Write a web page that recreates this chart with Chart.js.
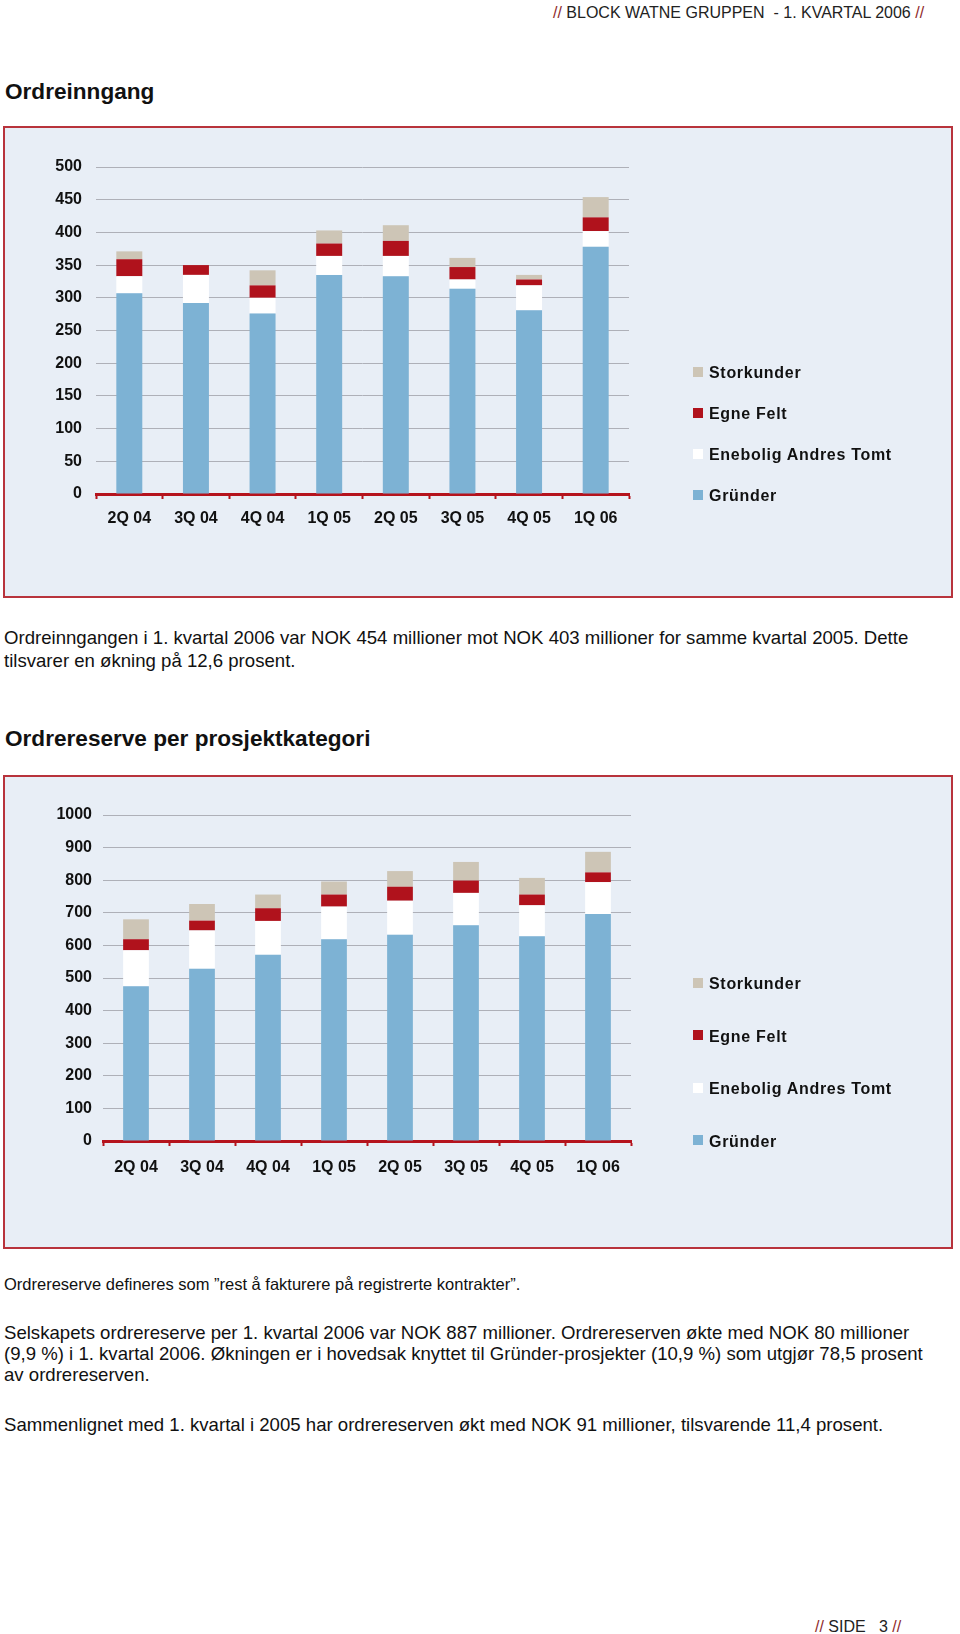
<!DOCTYPE html>
<html>
<head>
<meta charset="utf-8">
<script src="https://cdn.jsdelivr.net/npm/chart.js@4.4.1/dist/chart.umd.min.js"></script>
<style>
  html, body { margin: 0; padding: 0; background: #fff; }
  body { width: 960px; height: 1634px; position: relative; overflow: hidden;
         font-family: "Liberation Sans", Arial, Helvetica, sans-serif; color: #111; }
  .abs { position: absolute; white-space: nowrap; }
  .red { color: #8e2b2b; }
  .head { left: 553px; top: 3px; font-size: 16px; line-height: 20px; color: #222; }
  .foot { left: 815px; top: 1617px; font-size: 16px; line-height: 20px; color: #222; }
  .title { left: 5px; font-size: 22.6px; font-weight: bold; line-height: 26px; }
  .para { left: 4px; font-size: 18.6px; }
  .box { position: absolute; left: 3px; width: 946px; border: 2px solid #b8333c;
         background: #e8eef6; }
  canvas.chart { position: absolute; left: 0; }
  .legend { position: absolute; left: 693px; font-size: 16px; font-weight: bold;
            letter-spacing: 0.7px; color: #111; }
  .legend div { white-space: nowrap; }
  .legend span.sw { display: inline-block; width: 10px; height: 10px; margin-right: 6px;
                    vertical-align: middle; position: relative; top: -2px; }
</style>
</head>
<body>
<div class="abs head"><span class="red">//</span> BLOCK WATNE GRUPPEN&nbsp; - 1. KVARTAL 2006 <span class="red">//</span></div>

<div class="abs title" style="top:79px">Ordreinngang</div>
<div class="box" style="top:126px; height:468px"></div>
<canvas id="inngangChart" class="chart" width="960" height="472" style="top:126px"></canvas>
<div id="inngangLegend" class="legend" style="top:352px"></div>

<div class="abs para" style="top:626px; line-height:23.3px">Ordreinngangen i 1. kvartal 2006 var NOK 454 millioner mot NOK 403 millioner for samme kvartal 2005. Dette<br>tilsvarer en økning på 12,6 prosent.</div>

<div class="abs title" style="top:726px">Ordrereserve per prosjektkategori</div>
<div class="box" style="top:775px; height:470px"></div>
<canvas id="reserveChart" class="chart" width="960" height="474" style="top:775px"></canvas>
<div id="reserveLegend" class="legend" style="top:958px"></div>

<div class="abs" style="left:4px; top:1274px; font-size:16.5px; line-height:20px">Ordrereserve defineres som ”rest å fakturere på registrerte kontrakter”.</div>
<div class="abs para" style="top:1322px; line-height:21.2px">Selskapets ordrereserve per 1. kvartal 2006 var NOK 887 millioner. Ordrereserven økte med NOK 80 millioner<br>(9,9 %) i 1. kvartal 2006. Økningen er i hovedsak knyttet til Gründer-prosjekter (10,9 %) som utgjør 78,5 prosent<br>av ordrereserven.</div>
<div class="abs para" style="top:1414px; line-height:21.2px">Sammenlignet med 1. kvartal i 2005 har ordrereserven økt med NOK 91 millioner, tilsvarende 11,4 prosent.</div>

<div class="abs foot"><span class="red">//</span> SIDE &nbsp; 3 <span class="red">//</span></div>

<script>
// kvartaler
const quarters = ['2Q 04', '3Q 04', '4Q 04', '1Q 05', '2Q 05', '3Q 05', '4Q 05', '1Q 06'];

// serier (stablet nedenfra og opp)
const seriesNames = ['Gründer', 'Enebolig Andres Tomt', 'Egne Felt', 'Storkunder'];
const seriesColors = ['#7db2d4', '#ffffff', '#b0121c', '#cdc5b6'];

// Ordreinngang (MNOK)
const inngangGrunder = [307, 292, 276, 335, 333, 314, 281, 378];
const inngangEnebolig = [26, 43, 24, 29, 31, 14, 38, 24];
const inngangEgneFelt = [26, 15, 19, 19, 23, 19, 9, 21];
const inngangStorkunder = [12, 0, 23, 20, 24, 14, 7, 31];
const inngangTicks = [0, 50, 100, 150, 200, 250, 300, 350, 400, 450, 500];

// Ordrereserve (MNOK)
const reserveGrunder = [475, 528, 571, 619, 633, 662, 628, 696];
const reserveEnebolig = [110, 118, 104, 100, 104, 99, 95, 98];
const reserveEgneFelt = [34, 30, 39, 37, 43, 38, 33, 30];
const reserveStorkunder = [61, 51, 42, 40, 48, 57, 51, 63];
const reserveTicks = [0, 100, 200, 300, 400, 500, 600, 700, 800, 900, 1000];

const axisRed = '#b5131d';
const gridGray = '#aeb0b8';
const tickFont = { family: '"Liberation Sans", Arial, sans-serif', size: 16, weight: 'bold' };

function buildDatasets(seriesData) {
  return seriesData.map((data, i) => ({
    label: seriesNames[i],
    data: data,
    backgroundColor: seriesColors[i],
    borderWidth: 0,
    categoryPercentage: 1,
    barPercentage: 0.39
  }));
}

function buildLegend(id, spacing) {
  const el = document.getElementById(id);
  // legend lists top series first
  for (let i = seriesNames.length - 1; i >= 0; i--) {
    const row = document.createElement('div');
    row.style.height = spacing + 'px';
    row.style.lineHeight = spacing + 'px';
    const sw = document.createElement('span');
    sw.className = 'sw';
    sw.style.background = seriesColors[i];
    row.appendChild(sw);
    row.appendChild(document.createTextNode(seriesNames[i]));
    el.appendChild(row);
  }
}

function drawStackedChart(canvasId, seriesData, ticks, layout) {
  const ctx = document.getElementById(canvasId).getContext('2d');
  new Chart(ctx, {
    type: 'bar',
    data: {
      labels: quarters,
      datasets: buildDatasets(seriesData)
    },
    options: {
      responsive: false,
      animation: false,
      layout: { padding: layout.padding },
      plugins: {
        legend: { display: false },
        tooltip: { enabled: false }
      },
      scales: {
        x: {
          stacked: true,
          grid: {
            offset: true,
            drawOnChartArea: false,
            drawTicks: true,
            tickLength: 5,
            tickWidth: 2,
            tickColor: axisRed
          },
          border: { display: true, color: axisRed, width: 3 },
          ticks: { font: tickFont, color: '#111', padding: layout.xGap, maxRotation: 0 },
          afterFit: scale => { scale.height = 40; }
        },
        y: {
          stacked: true,
          min: ticks[0],
          max: ticks[ticks.length - 1],
          afterBuildTicks: scale => { scale.ticks = ticks.map(v => ({ value: v })); },
          grid: { color: gridGray, lineWidth: 1, drawTicks: false },
          border: { display: false },
          ticks: {
            font: tickFont,
            color: '#111',
            padding: layout.labelGap,
            callback: value => String(value)
          },
          afterFit: scale => { scale.width = layout.axisWidth; }
        }
      }
    }
  });
}

drawStackedChart('inngangChart',
  [inngangGrunder, inngangEnebolig, inngangEgneFelt, inngangStorkunder],
  inngangTicks,
  { padding: { left: 0, top: 41, right: 331, bottom: 64 }, axisWidth: 96, labelGap: 14, xGap: 10 });

drawStackedChart('reserveChart',
  [reserveGrunder, reserveEnebolig, reserveEgneFelt, reserveStorkunder],
  reserveTicks,
  { padding: { left: 0, top: 40, right: 329, bottom: 68 }, axisWidth: 103, labelGap: 11, xGap: 12 });

buildLegend('inngangLegend', 41.1);
buildLegend('reserveLegend', 52.5);
</script>
</body>
</html>
